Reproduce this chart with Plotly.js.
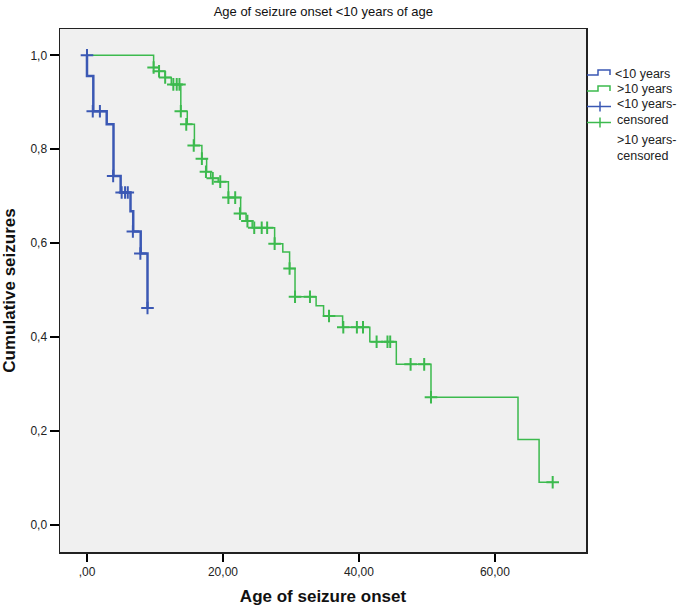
<!DOCTYPE html>
<html>
<head>
<meta charset="utf-8">
<script src="https://cdn.plot.ly/plotly-3.0.1.min.js"></script>
<style>
  body { margin: 0; background: #fff; }
  #chart { width: 685px; height: 610px; }
</style>
</head>
<body>
<div id="chart"></div>
<script>
// step curves (time, cumulative value after each drop)
let blueT = [0, 0, 0.93, 2.9, 3.9, 4.95, 6.4, 6.8, 7.9, 8.9];
let blueS = [1, 0.956, 0.881, 0.853, 0.743, 0.708, 0.668, 0.625, 0.578, 0.462];

let greenT = [0, 9.8, 10.6, 11.5, 12.4, 13.8, 14.75, 15.8, 16.9, 17.6, 18.2, 19.3, 20.8, 22.6, 23.4, 24.3,
              27.6, 28.8, 29.8, 30.6, 33.7, 34.8, 37.6, 41.6, 45.5, 50.6, 63.4, 66.5, 68.5];
let greenS = [1, 0.974, 0.966, 0.953, 0.938, 0.881, 0.853, 0.808, 0.780, 0.752, 0.738, 0.731, 0.697, 0.663, 0.647, 0.633,
              0.599, 0.581, 0.546, 0.486, 0.467, 0.445, 0.421, 0.390, 0.342, 0.272, 0.182, 0.091, 0.091];

// censored marks
let blueCT = [0, 0.85, 1.9, 3.85, 5.1, 5.6, 6.0, 6.75, 7.85, 8.9];
let blueCS = [1, 0.881, 0.881, 0.743, 0.708, 0.708, 0.708, 0.625, 0.578, 0.462];

let greenCT = [9.8, 10.6, 11.5, 12.7, 13.2, 13.6, 13.8, 14.6, 15.7, 16.9, 17.5, 18.5, 19.6, 20.8, 21.8, 22.5,
               23.6, 24.6, 25.7, 26.5, 27.6, 29.8, 30.6, 32.8, 35.6, 37.7, 39.7, 40.6, 42.6, 44.2, 44.6,
               47.6, 49.6, 50.6, 68.5];
let greenCS = [0.974, 0.966, 0.953, 0.938, 0.938, 0.938, 0.881, 0.853, 0.808, 0.780, 0.752, 0.738, 0.731, 0.697, 0.697, 0.663,
               0.647, 0.633, 0.633, 0.633, 0.599, 0.546, 0.486, 0.486, 0.445, 0.421, 0.421, 0.421, 0.390, 0.390, 0.390,
               0.342, 0.342, 0.272, 0.091];

let xTicks = [0, 20, 40, 60];
let xTickText = [",00", "20,00", "40,00", "60,00"];
let yTicks = [0, 0.2, 0.4, 0.6, 0.8, 1.0];
let yTickText = ["0,0", "0,2", "0,4", "0,6", "0,8", "1,0"];

let legendNames = ["<10 years", ">10 years", "<10 years-", "censored", ">10 years-", "censored"];

const BLUE = "#3b58b4";
const GREEN = "#3cba4e";
const FONT = "Arial, 'Liberation Sans', sans-serif";

// plot area in pixels
const L = 60, R = 586, T = 29, B = 552;
function px(x) { return (x - L) / (R - L); }
function py(y) { return (B - y) / (B - T); }

let traces = [
    {x: greenT, y: greenS, mode: "lines", line: {shape: "hv", color: GREEN, width: 1.5}, hoverinfo: "skip"},
    {x: blueT, y: blueS, mode: "lines", line: {shape: "hv", color: BLUE, width: 2.5}, hoverinfo: "skip"},
    {x: greenCT, y: greenCS, mode: "markers",
     marker: {symbol: "cross-thin", size: 9, color: GREEN, line: {color: GREEN, width: 2}}},
    {x: blueCT, y: blueCS, mode: "markers",
     marker: {symbol: "cross-thin", size: 9, color: BLUE, line: {color: BLUE, width: 2}}}
];

// legend drawn by hand, SPSS style
let shapes = [];
function stepIcon(y, color) {
    let p = "M" + px(587) + "," + py(y) + " L" + px(598) + "," + py(y) +
            " L" + px(598) + "," + py(y - 5) + " L" + px(610) + "," + py(y - 5) +
            " L" + px(610) + "," + py(y);
    shapes.push({type: "path", xref: "paper", yref: "paper", path: p, line: {color: color, width: 1.5}});
}
function crossIcon(y, color) {
    shapes.push({type: "line", xref: "paper", yref: "paper", x0: px(587), x1: px(611), y0: py(y), y1: py(y),
                 line: {color: color, width: 1.5}});
    shapes.push({type: "line", xref: "paper", yref: "paper", x0: px(600), x1: px(600), y0: py(y - 5), y1: py(y + 5),
                 line: {color: color, width: 1.5}});
}
stepIcon(75, BLUE);
stepIcon(91, GREEN);
crossIcon(106.5, BLUE);
crossIcon(122.5, GREEN);

let legendY = [74, 89, 104, 120, 140, 156];
let legendX = [613, 615, 615, 615, 615, 615];
let annotations = legendNames.map(function (t, i) {
    return {text: t, xref: "paper", yref: "paper", x: px(legendX[i]), y: py(legendY[i]),
            xanchor: "left", yanchor: "middle", showarrow: false,
            font: {family: FONT, size: 12.5, color: "#222"}};
});

let layout = {
    width: 685,
    height: 610,
    showlegend: false,
    paper_bgcolor: "#ffffff",
    plot_bgcolor: "#f0f0f0",
    margin: {l: L, r: 685 - R, t: T, b: 610 - B, pad: 0},
    title: {text: "Age of seizure onset <10 years of age", x: 0.472, xanchor: "center", y: 0.981, yanchor: "middle",
            font: {family: FONT, size: 13, color: "#111"}},
    xaxis: {
        range: [-3.97, 73.4],
        tickvals: xTicks, ticktext: xTickText,
        ticks: "outside", ticklen: 8, tickwidth: 2, tickcolor: "#000",
        showgrid: false, zeroline: false,
        showline: true, mirror: true, linecolor: "#222", linewidth: 1.5,
        tickfont: {family: FONT, size: 12, color: "#222"},
        title: {text: "<b>Age of seizure onset</b>", standoff: 12, font: {family: FONT, size: 17, color: "#111"}}
    },
    yaxis: {
        range: [-0.0575, 1.056],
        tickvals: yTicks, ticktext: yTickText,
        ticks: "outside", ticklen: 9, tickwidth: 2, tickcolor: "#000",
        showgrid: false, zeroline: false,
        showline: true, mirror: true, linecolor: "#222", linewidth: 1.5,
        tickfont: {family: FONT, size: 12, color: "#222"},
        title: {text: "<b>Cumulative seizures</b>", standoff: 12, font: {family: FONT, size: 17, color: "#111"}}
    },
    shapes: shapes,
    annotations: annotations
};

Plotly.newPlot("chart", traces, layout, {displayModeBar: false, staticPlot: true});
</script>
</body>
</html>
